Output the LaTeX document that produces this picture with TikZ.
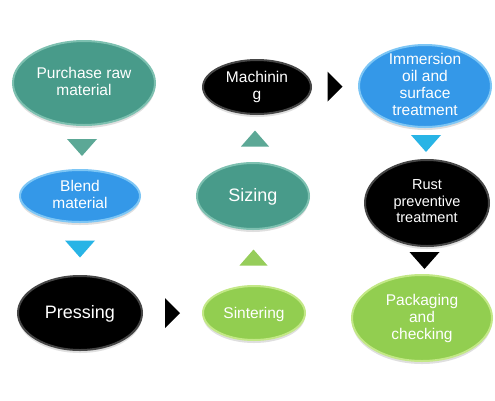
\documentclass[tikz,border=0pt]{standalone}
\usepackage{fontspec}
\setmainfont{Liberation Sans}
\usetikzlibrary{shapes.geometric,calc,shadows}
\definecolor{tealE}{RGB}{72,155,138}
\definecolor{tealR}{RGB}{125,192,176}
\definecolor{tealT}{RGB}{92,168,150}
\definecolor{blueE}{RGB}{52,152,232}
\definecolor{blueR}{RGB}{125,198,245}
\definecolor{blueT}{RGB}{40,180,230}
\definecolor{greenE}{RGB}{146,206,80}
\definecolor{greenR}{RGB}{195,232,135}
\definecolor{greenT}{RGB}{150,205,90}
\definecolor{blackR}{RGB}{70,70,70}
\newcommand\lbl[2][-7.5pt]{\raisebox{#1}{\smash{\begin{tabular}[c]{@{}c@{}}#2\end{tabular}}}}
\newcommand\tridown[3]{\fill[#3] ($(#1.south)!0.5!(#2.north)$) ++(-15,-8.5) -- ++(30,0) -- ++(-15,17) -- cycle;}
\newcommand\triup[3]{\fill[#3] ($(#1.north)!0.5!(#2.south)$) ++(-14,8) -- ++(28,0) -- ++(-14,-16) -- cycle;}
\newcommand\triright[3]{\fill[#3] ($(#1.east)!0.5!(#2.west)$) ++(-7.5,-15) -- ++(0,30) -- ++(15,-15) -- cycle;}
\tikzset{
  stage/.style={ellipse, inner sep=0pt, outer sep=0pt, text=white, line width=2pt,
    font=\fontsize{15.5}{17}\selectfont,
    drop shadow={shadow xshift=0pt, shadow yshift=-3pt, opacity=0.25}},
  tealS/.style={stage, fill=tealE, draw=tealR},
  blueS/.style={stage, fill=blueE, draw=blueR},
  greenS/.style={stage, fill=greenE, draw=greenR},
  blackS/.style={stage, fill=black, draw=blackR},
  sz/.style 2 args={minimum width=#1pt, minimum height=#2pt}
}
\begin{document}
\begin{tikzpicture}[x=1pt,y=-1pt]
\useasboundingbox[fill=white] (0,0) rectangle (495,400);
\node[tealS, sz={142}{84}] (pur) at (84,83) {\lbl{Purchase raw\\material}};
\node[blueS, sz={120}{52}] (blend) at (80,196) {\lbl{Blend\\material}};
\node[blackS, sz={124}{74}, font=\fontsize{18}{20}\selectfont] (press) at (80,313) {\lbl[-12.5pt]{Pressing}};
\node[greenS, sz={102}{54}] (sint) at (254,313) {\lbl[-12pt]{Sintering}};
\node[tealS, sz={112}{66}, font=\fontsize{18}{20}\selectfont] (siz) at (253,196) {\lbl[-12.5pt]{Sizing}};
\node[blackS, sz={108}{54}] (mach) at (257,87) {\lbl{Machinin\\g}};
\node[blueS, sz={132}{82}] (imm) at (425,86) {\lbl{Immersion\\oil and\\surface\\treatment}};
\node[blackS, sz={124}{86}, font=\fontsize{14.5}{16.5}\selectfont] (rust) at (427,203) {\lbl{Rust\\preventive\\treatment}};
\node[greenS, sz={140}{86}] (pack) at (422,318) {\lbl[-8.5pt]{Packaging\\and\\checking}};
\tridown{pur}{blend}{tealT}
\tridown{blend}{press}{blueT}
\triright{press}{sint}{black}
\triup{sint}{siz}{greenT}
\triup{siz}{mach}{tealT}
\triright{mach}{imm}{black}
\tridown{imm}{rust}{blueT}
\tridown{rust}{pack}{black}
\end{tikzpicture}
\end{document}
